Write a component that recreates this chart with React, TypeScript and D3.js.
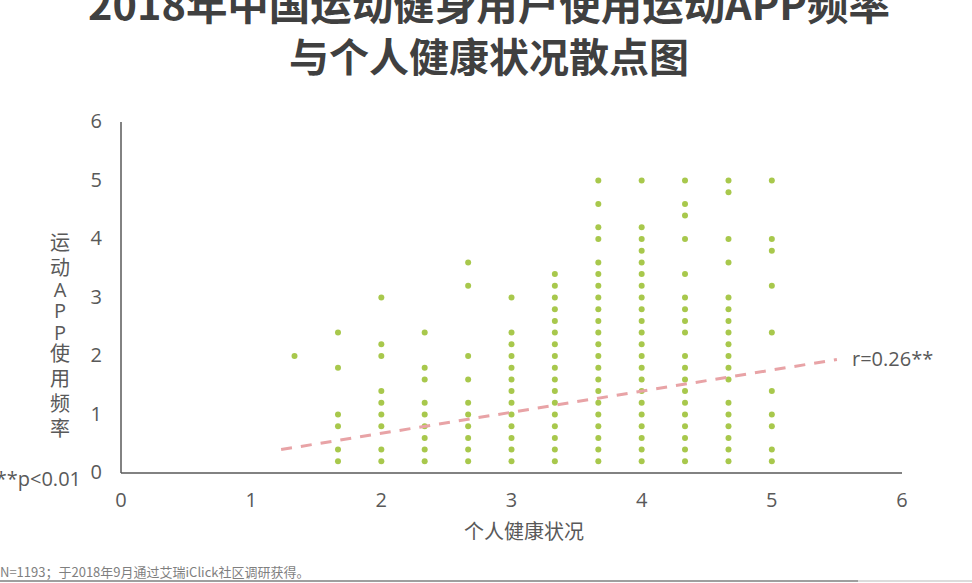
import * as d3 from 'd3';

// 个人健康状况 (x) levels, and the 运动APP使用频率 values seen at each level
const healthLevels = [1.333, 1.667, 2, 2.333, 2.667, 3, 3.333, 3.667, 4, 4.333, 4.667, 5];
const appFreqByLevel = [
  [2.0],
  [2.4, 1.8, 1.0, 0.8, 0.4, 0.2],
  [3.0, 2.2, 2.0, 1.4, 1.2, 1.0, 0.8, 0.4, 0.2],
  [2.4, 1.8, 1.6, 1.2, 1.0, 0.8, 0.6, 0.4, 0.2],
  [3.6, 3.2, 2.0, 1.6, 1.2, 1.0, 0.8, 0.6, 0.4, 0.2],
  [3.0, 2.4, 2.2, 2.0, 1.8, 1.6, 1.4, 1.2, 1.0, 0.8, 0.6, 0.4, 0.2],
  [3.4, 3.2, 3.0, 2.8, 2.6, 2.4, 2.2, 2.0, 1.8, 1.6, 1.4, 1.2, 1.0, 0.8, 0.6, 0.4, 0.2],
  [5.0, 4.6, 4.2, 4.0, 3.6, 3.4, 3.2, 3.0, 2.8, 2.6, 2.4, 2.2, 2.0, 1.8, 1.6, 1.4, 1.2, 1.0, 0.8, 0.6, 0.4, 0.2],
  [5.0, 4.2, 4.0, 3.8, 3.6, 3.4, 3.2, 3.0, 2.8, 2.6, 2.4, 2.2, 2.0, 1.8, 1.6, 1.4, 1.2, 1.0, 0.8, 0.6, 0.4, 0.2],
  [5.0, 4.6, 4.4, 4.0, 3.4, 3.0, 2.8, 2.6, 2.4, 2.0, 1.8, 1.6, 1.4, 1.2, 1.0, 0.8, 0.6, 0.4, 0.2],
  [5.0, 4.8, 4.0, 3.6, 3.0, 2.8, 2.6, 2.4, 2.2, 2.0, 1.8, 1.6, 1.2, 1.0, 0.8, 0.6, 0.4, 0.2],
  [5.0, 4.0, 3.8, 3.2, 2.4, 1.4, 1.0, 0.8, 0.4, 0.2],
];

// fitted trend line end points
const trendX = [1.23, 5.5];
const trendY = [0.4, 1.94];

const xTicks = [0, 1, 2, 3, 4, 5, 6];
const yTicks = [0, 1, 2, 3, 4, 5, 6];

const titleLines = ['2018年中国运动健身用户使用运动APP频率', '与个人健康状况散点图'];
const yLabelChars = ['运', '动', 'A', 'P', 'P', '使', '用', '频', '率'];
const xLabel = '个人健康状况';
const rLabel = 'r=0.26**';
const pLabel = '**p<0.01';
const footnote = 'N=1193；于2018年9月通过艾瑞iClick社区调研获得。';

const W = 972;
const H = 583;
const font = '"Open Sans", "Noto Sans CJK SC", sans-serif';
const cjk = '"Noto Sans CJK SC", sans-serif';
const axisColor = '#595959';

const App = () => {
  const x = d3.scaleLinear().domain([0, 6]).range([121, 902]);
  const y = d3.scaleLinear().domain([0, 6]).range([473, 122]);

  const points = healthLevels.flatMap((h, i) =>
    appFreqByLevel[i].map((f) => ({ h, f }))
  );

  const trendLine = d3.line<number>()
    .x((d) => x(d))
    .y((_, i) => y(trendY[i]));

  // stack the y label, latin letters take less room
  let cy = 243;
  const yLabelPos = yLabelChars.map((c, i) => {
    if (i > 0) {
      const prevLatin = /[A-Z]/.test(yLabelChars[i - 1]);
      const curLatin = /[A-Z]/.test(c);
      cy += prevLatin || curLatin ? 21.5 : 25;
    }
    return cy;
  });

  return (
    <div style={{ position: 'absolute', left: 0, top: 0 }}>
      <svg width={W} height={H} style={{ display: 'block', background: '#fff' }}>
        {titleLines.map((t, i) => (
          <text
            key={t}
            x={489}
            y={20 + i * 52}
            textAnchor="middle"
            fontFamily={cjk}
            fontWeight={700}
            fontSize={40}
            fill="#404040"
            textLength={i === 0 ? 802 : 400}
            lengthAdjust="spacingAndGlyphs"
          >
            {t}
          </text>
        ))}

        {/* axes */}
        <line x1={x(0)} x2={x(0)} y1={y(6)} y2={y(0)} stroke={axisColor} strokeWidth={1.5} />
        <line x1={x(0)} x2={x(6)} y1={y(0)} y2={y(0)} stroke={axisColor} strokeWidth={1.5} />

        {yTicks.map((t) => (
          <text key={'y' + t} x={102} y={y(t) + 6} textAnchor="end" fontFamily={font} fontSize={20} fill={axisColor}>
            {t}
          </text>
        ))}
        {xTicks.map((t) => (
          <text key={'x' + t} x={x(t)} y={507} textAnchor="middle" fontFamily={font} fontSize={20} fill={axisColor}>
            {t}
          </text>
        ))}

        {points.map((p, i) => (
          <circle key={i} cx={x(p.h)} cy={y(p.f)} r={3} fill="#a8c84c" />
        ))}

        <path
          d={trendLine(trendX) || ''}
          fill="none"
          stroke="#e8a3a6"
          strokeWidth={3}
          strokeDasharray="11 9"
        />

        <text x={852} y={366} fontFamily={font} fontSize={20} fill={axisColor}>
          {rLabel}
        </text>
        <text x={81} y={486} textAnchor="end" fontFamily={font} fontSize={20} fill={axisColor}>
          {pLabel}
        </text>

        {yLabelChars.map((c, i) => (
          <text key={'l' + i} x={60} y={yLabelPos[i] + 7} textAnchor="middle" fontFamily={font} fontSize={20} fill={axisColor}>
            {c}
          </text>
        ))}

        <text x={524} y={539} textAnchor="middle" fontFamily={font} fontSize={20} fill={axisColor}>
          {xLabel}
        </text>

        <text x={0} y={577} fontFamily={cjk} fontSize={13} fill="#7f7f7f">
          {footnote}
        </text>
        <line x1={0} x2={858} y1={581} y2={581} stroke="#7f7f7f" strokeWidth={1.5} />
        <line x1={858} x2={W} y1={581} y2={581} stroke="#d0d0d0" strokeWidth={1.5} />
      </svg>
    </div>
  );
};

export default App;
